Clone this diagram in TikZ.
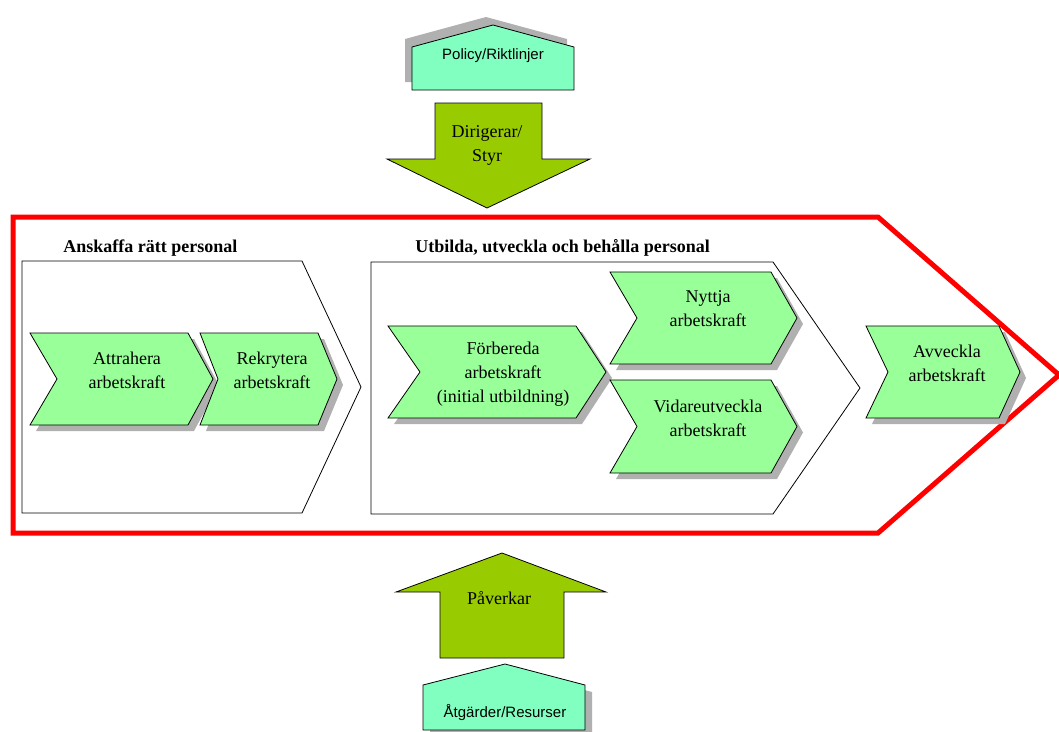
\documentclass[tikz,border=0pt]{standalone}
\usepackage{fontspec}
\setmainfont{Liberation Serif}
\newfontfamily\arialfont{Liberation Sans}

\definecolor{chevgreen}{RGB}{153,255,153}
\definecolor{arrowgreen}{RGB}{153,204,0}
\definecolor{housemint}{RGB}{128,255,192}
\definecolor{shadowgray}{RGB}{176,176,176}

% chevron: left, top, bottom, notch depth, corner x, tip x
\newcommand{\chev}[6]{
	\fill[shadowgray,shift={(6,6)}] (#1,#2) -- (#5,#2) -- (#6,{(#2+#3)/2}) -- (#5,#3) -- (#1,#3) -- ({#1+#4},{(#2+#3)/2}) -- cycle;
	\draw[fill=chevgreen] (#1,#2) -- (#5,#2) -- (#6,{(#2+#3)/2}) -- (#5,#3) -- (#1,#3) -- ({#1+#4},{(#2+#3)/2}) -- cycle;
}

\begin{document}
\begin{tikzpicture}[x=1pt,y=-1pt,line width=0.8pt,line join=miter]
	\tikzstyle{every node}=[inner sep=0pt]
	\tikzstyle{chevtext}=[align=center,font=\fontsize{18}{24}\selectfont]
	\tikzstyle{title}=[anchor=base west,font=\fontsize{18}{21}\selectfont\bfseries]
	\tikzstyle{housetext}=[font=\arialfont\fontsize{15}{18}\selectfont]

	\useasboundingbox (0,0) rectangle (1059,731);

	% outer frame
	\draw[red,line width=5pt] (13,217) -- (878,217) -- (1059,375) -- (878,533) -- (13,533) -- cycle;

	% the two phases
	\draw (22,261) -- (302,261) -- (361,387) -- (302,513) -- (22,513) -- cycle;
	\draw (371,262) -- (773,262) -- (860,388) -- (773,514) -- (371,514) -- cycle;
	\node[title] (titleA) at (63,252) {Anskaffa rätt personal};
	\node[title] (titleU) at (415,252) {Utbilda, utveckla och behålla personal};

	\chev{30}{333}{425}{27}{188}{213}
	\chev{200}{333}{425}{18}{318}{337}
	\chev{388}{326}{418}{32}{576}{606}
	\chev{610}{272}{364}{27}{771}{797}
	\chev{610}{380}{473}{27}{771}{797}
	\chev{866}{326}{418}{22}{999}{1020}

	\node[chevtext] (attr) at (127,370) {Attrahera\\arbetskraft};
	\node[chevtext] (rekr) at (272,370) {Rekrytera\\arbetskraft};
	\node[chevtext] (forb) at (503,374) {Förbereda\\arbetskraft\\(initial utbildning)};
	\node[chevtext] (nytt) at (708,309) {Nyttja\\arbetskraft};
	\node[chevtext] (vida) at (708,418) {Vidareutveckla\\arbetskraft};
	\node[chevtext] (avve) at (947,363) {Avveckla\\arbetskraft};

	% policy on top
	\fill[shadowgray,shift={(-7,-8)}] (412,90) -- (412,47) -- (493,25) -- (574,47) -- (574,90) -- cycle;
	\draw[fill=housemint] (412,90) -- (412,47) -- (493,25) -- (574,47) -- (574,90) -- cycle;
	\node[housetext] (policy) at (493,56) {Policy/Riktlinjer};

	\draw[fill=arrowgreen] (435,103) -- (542,103) -- (542,159) -- (590,159) -- (487,208) -- (387,159) -- (435,159) -- cycle;
	\node[chevtext] (dirig) at (487,145) {Dirigerar/\\Styr};

	% resources at the bottom
	\draw[fill=arrowgreen] (440,658) -- (440,592) -- (396,592) -- (502,553) -- (606,592) -- (564,592) -- (564,658) -- cycle;
	\node[chevtext] (paverk) at (499,598) {Påverkar};

	\fill[shadowgray,shift={(7,7)}] (423,730) -- (423,685) -- (505,664) -- (585,685) -- (585,730) -- cycle;
	\draw[fill=housemint] (423,730) -- (423,685) -- (505,664) -- (585,685) -- (585,730) -- cycle;
	\node[housetext] (atgard) at (505,712) {Åtgärder/Resurser};
\end{tikzpicture}
\end{document}
